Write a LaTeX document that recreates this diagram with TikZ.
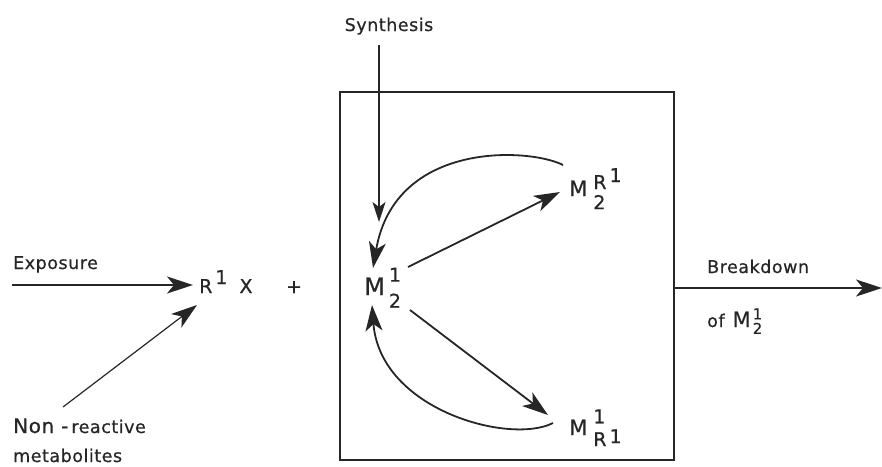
\documentclass[tikz,border=0pt]{standalone}
\usepackage{fontspec}
\setmainfont{DejaVu Sans}[LetterSpace=3,FakeBold=0.6]
\usetikzlibrary{arrows.meta,calc}
\definecolor{ink}{HTML}{262626}
\newcommand{\stk}[3]{\begin{tabular}[c]{@{}l@{}}#1\\[#3]#2\end{tabular}}
\tikzset{
  lbl/.style={inner sep=0pt, text=ink, font=\fontsize{17.5}{21}\selectfont},
  sym/.style={inner sep=0pt, text=ink},
  arr/.style={draw=ink, line width=1.8pt, -{Stealth[length=26pt,width=17pt,inset=7pt]}},
  thinarr/.style={draw=ink, line width=1.1pt, -{Stealth[length=20pt,width=13pt,inset=5pt]}},
  boxstyle/.style={draw=ink, line width=1.6pt, minimum width=334pt, minimum height=368pt, inner sep=0pt}
}
\begin{document}
\begin{tikzpicture}[x=1pt,y=-1pt]
\useasboundingbox (0,0) rectangle (882,466);
% box
\node[boxstyle] (box) at (507,276) {};
% labels
\node[lbl, anchor=base] (syn) at (389,31) {Synthesis};
\node[lbl, anchor=base west] (exp) at (13,269) {Exposure};
\node[lbl, anchor=base west] (nr) at (13,433) {{\fontsize{20}{24}\selectfont Non -}\,reactive};
\node[lbl, anchor=base west] (nr2) at (13,462) {metabolites};
\node[lbl, anchor=base west] (bd) at (707,273) {Breakdown};
\node[lbl, anchor=base west] (ofm) at (707,327) {of\hspace{8pt}{\fontsize{21}{24}\selectfont M}\kern2pt{\fontsize{15}{15}\selectfont\stk{1}{2}{-1pt}}};
% R1 X +
\node[sym, anchor=base west, font=\fontsize{19}{22}\selectfont] (rx) at (199,293) {R\kern3pt\raisebox{9pt}{1}\hspace{12pt}X};
\node[sym, anchor=base, font=\fontsize{19}{22}\selectfont] (plus) at (294,293) {+};
% M nodes
\node[sym, anchor=base west] (m21) at (364,295) {{\fontsize{24}{26}\selectfont M}\kern4pt{\fontsize{19}{20}\selectfont\stk{1}{2}{6pt}}};
\node[sym, anchor=base west] (mr) at (569,196) {{\fontsize{21}{24}\selectfont M}\kern6pt{\fontsize{19}{20}\selectfont\stk{R\kern3pt\raisebox{7pt}{1}}{2}{0pt}}};
\node[sym, anchor=base west] (mr1) at (569,435) {{\fontsize{21}{24}\selectfont M}\kern6pt{\fontsize{19}{20}\selectfont\stk{1}{R\kern3pt\raisebox{3pt}{1}}{0pt}}};
% free ends
\coordinate (syntop) at (379,45);
\coordinate (expstart) at (12,285);
\coordinate (bdend) at (882,288);
% connectors
\draw[thinarr] (syntop) -- ($(m21.base west)+(15,-73)$);
\draw[arr, line width=1.4pt] (expstart) -- ($(rx.base west)+(-6,-8)$);
\draw[arr, line width=1.2pt] ($(nr.base west)+(50,-26)$) -- ($(rx.base west)+(-2,12)$);
\draw[arr] ($(m21.base west)+(44,-28)$) -- ($(mr.base west)+(-9,-4)$);
\draw[arr] ($(mr.base west)+(-6,-31)$) .. controls +(-33,-17) and +(22,-128) .. ($(m21.base west)+(9,-27)$);
\draw[arr] ($(m21.base west)+(46,15)$) -- ($(mr1.base west)+(-21,-20)$);
\draw[arr] ($(mr1.base west)+(-16,-12)$) .. controls +(-43,22) and +(8,105) .. ($(m21.base west)+(8,10)$);
\draw[arr, line width=2pt] ($(box.east)+(0,12)$) -- (bdend);
\end{tikzpicture}
\end{document}
